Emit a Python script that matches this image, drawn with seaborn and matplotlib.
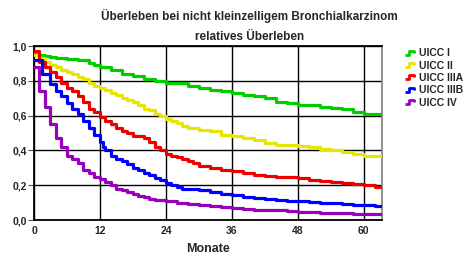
import matplotlib
matplotlib.use("Agg")
import matplotlib.pyplot as plt
from matplotlib.path import Path
import seaborn as sns
import pandas as pd

# relative survival (months, value)
months_I = [0, 1, 2, 3, 4, 6, 8, 10, 11, 12, 14, 16, 18, 20, 22, 24, 26, 28, 30, 32, 34, 36, 38, 40, 42, 44, 46, 48, 50, 52, 54, 56, 58, 60, 64]
surv_I = [0.96, 0.95, 0.94, 0.935, 0.93, 0.925, 0.92, 0.90, 0.89, 0.88, 0.86, 0.84, 0.83, 0.81, 0.80, 0.79, 0.79, 0.77, 0.76, 0.75, 0.74, 0.73, 0.72, 0.71, 0.70, 0.68, 0.67, 0.66, 0.66, 0.65, 0.645, 0.64, 0.62, 0.61, 0.60]

months_II = [0, 1, 2, 3, 4, 5, 6, 7, 8, 9, 10, 11, 12, 13, 14, 15, 16, 17, 18, 19, 20, 21, 22, 23, 24, 25, 26, 27, 28, 30, 32, 34, 36, 38, 40, 42, 44, 46, 48, 50, 52, 54, 56, 58, 60, 64]
surv_II = [0.95, 0.93, 0.91, 0.89, 0.88, 0.86, 0.85, 0.84, 0.82, 0.81, 0.79, 0.77, 0.76, 0.75, 0.73, 0.72, 0.70, 0.69, 0.68, 0.66, 0.64, 0.63, 0.61, 0.60, 0.58, 0.57, 0.56, 0.54, 0.53, 0.52, 0.51, 0.49, 0.48, 0.47, 0.46, 0.44, 0.43, 0.43, 0.425, 0.42, 0.41, 0.40, 0.39, 0.38, 0.37, 0.37]

months_IIIA = [0, 1, 2, 3, 4, 5, 6, 7, 8, 9, 10, 11, 12, 13, 14, 15, 16, 17, 18, 20, 21, 22, 23, 24, 25, 26, 27, 28, 29, 30, 32, 34, 36, 38, 40, 42, 44, 46, 48, 50, 52, 54, 56, 58, 60, 62, 64]
surv_IIIA = [0.97, 0.91, 0.88, 0.85, 0.82, 0.79, 0.76, 0.74, 0.71, 0.68, 0.64, 0.62, 0.59, 0.57, 0.55, 0.53, 0.51, 0.50, 0.48, 0.47, 0.45, 0.42, 0.40, 0.38, 0.37, 0.36, 0.35, 0.34, 0.33, 0.31, 0.30, 0.29, 0.28, 0.27, 0.26, 0.255, 0.25, 0.245, 0.24, 0.23, 0.225, 0.22, 0.21, 0.205, 0.20, 0.19, 0.19]

months_IIIB = [0, 1.5, 3, 4, 5, 6, 7, 8, 9, 10, 11, 12, 12.5, 13, 14, 15, 16, 17, 18, 19, 20, 21, 22, 23, 24, 25, 26, 27, 28, 30, 32, 34, 36, 38, 40, 42, 44, 46, 48, 50, 52, 54, 56, 58, 60, 62, 64]
surv_IIIB = [0.92, 0.84, 0.78, 0.74, 0.71, 0.67, 0.64, 0.61, 0.57, 0.53, 0.49, 0.45, 0.42, 0.40, 0.37, 0.35, 0.34, 0.32, 0.30, 0.29, 0.27, 0.26, 0.24, 0.23, 0.21, 0.20, 0.19, 0.18, 0.176, 0.17, 0.16, 0.15, 0.144, 0.135, 0.125, 0.12, 0.115, 0.11, 0.11, 0.105, 0.10, 0.095, 0.09, 0.087, 0.085, 0.08, 0.08]

months_IV = [0, 1, 2, 3, 4, 5, 6, 7, 8, 9, 10, 11, 12, 13, 14, 15, 16, 17, 18, 19, 20, 21, 22, 24, 26, 28, 30, 32, 34, 36, 38, 40, 42, 44, 46, 48, 50, 52, 54, 56, 58, 60, 62, 64]
surv_IV = [0.88, 0.74, 0.65, 0.55, 0.47, 0.42, 0.37, 0.35, 0.33, 0.29, 0.27, 0.25, 0.235, 0.22, 0.20, 0.18, 0.17, 0.16, 0.15, 0.14, 0.13, 0.12, 0.115, 0.11, 0.10, 0.09, 0.085, 0.08, 0.075, 0.067, 0.063, 0.06, 0.057, 0.055, 0.05, 0.048, 0.045, 0.043, 0.04, 0.038, 0.037, 0.036, 0.035, 0.035]

groups = ["UICC I", "UICC II", "UICC IIIA", "UICC IIIB", "UICC IV"]
colors = ["#00cc00", "#e6e600", "#ee0000", "#0000ff", "#9900bb"]
x_ticks = [0, 12, 24, 36, 48, 60]
y_ticks = [0.0, 0.2, 0.4, 0.6, 0.8, 1.0]

frames = []
for g, m, s in zip(groups,
                   [months_I, months_II, months_IIIA, months_IIIB, months_IV],
                   [surv_I, surv_II, surv_IIIA, surv_IIIB, surv_IV]):
    frames.append(pd.DataFrame({"Monate": m, "Ueberleben": s, "Gruppe": g}))
df = pd.concat(frames, ignore_index=True)

sns.set_style("white")
plt.rcParams["font.family"] = ["Liberation Sans", "DejaVu Sans"]
plt.rcParams["font.weight"] = "bold"

fig = plt.figure(figsize=(4.67, 2.62), dpi=100)
ax = fig.add_axes([34 / 467, 42 / 262, 348 / 467, 174 / 262])

sns.lineplot(data=df, x="Monate", y="Ueberleben", hue="Gruppe",
             palette=colors, hue_order=groups, drawstyle="steps-post",
             linewidth=2.3, ax=ax, legend=False, zorder=3)

ax.set_xlim(0, 63.3)
ax.set_ylim(0, 1.0)
ax.set_xticks(x_ticks)
ax.set_yticks(y_ticks)
ax.set_yticklabels([f"{v:.1f}".replace(".", ",") for v in y_ticks])
ax.tick_params(axis="both", labelsize=7.5, length=0, pad=4)
ax.tick_params(axis="y", length=4, color="#555555", pad=1, left=True)
for lab in ax.get_xticklabels() + ax.get_yticklabels():
    lab.set_fontweight("bold")
ax.grid(True, color="black", linewidth=1)
for sp in ["left", "bottom", "top"]:
    ax.spines[sp].set_color("black")
    ax.spines[sp].set_linewidth(1.3)
ax.spines["right"].set_color("#888888")
ax.spines["right"].set_linewidth(1.3)
ax.set_xlabel("Monate", fontsize=9, fontweight="bold", labelpad=5)
ax.set_ylabel("")

fig.text(0.535, 0.94, "Überleben bei nicht kleinzelligem Bronchialkarzinom",
         ha="center", va="center", fontsize=8.5, fontweight="bold")
fig.text(0.535, 0.858, "relatives Überleben",
         ha="center", va="center", fontsize=8.5, fontweight="bold")

# small step-shaped legend icon
step = Path([(-1, -0.35), (-0.3, -0.35), (-0.3, 0.35), (0.5, 0.35), (0.5, 0.0)],
            [Path.MOVETO] + [Path.LINETO] * 4)
handles = [plt.Line2D([], [], color=c, linestyle="none", marker=step,
                      markersize=9, markeredgewidth=2.0, markerfacecolor="none")
           for c in colors]
fig.legend(handles, groups, loc="upper left", bbox_to_anchor=(0.872, 0.815),
           frameon=False, handlelength=0.8, handletextpad=0.3,
           labelspacing=0.22, borderpad=0, borderaxespad=0,
           prop={"size": 7.5, "weight": "bold"})

fig.savefig("out.png", dpi=100)
